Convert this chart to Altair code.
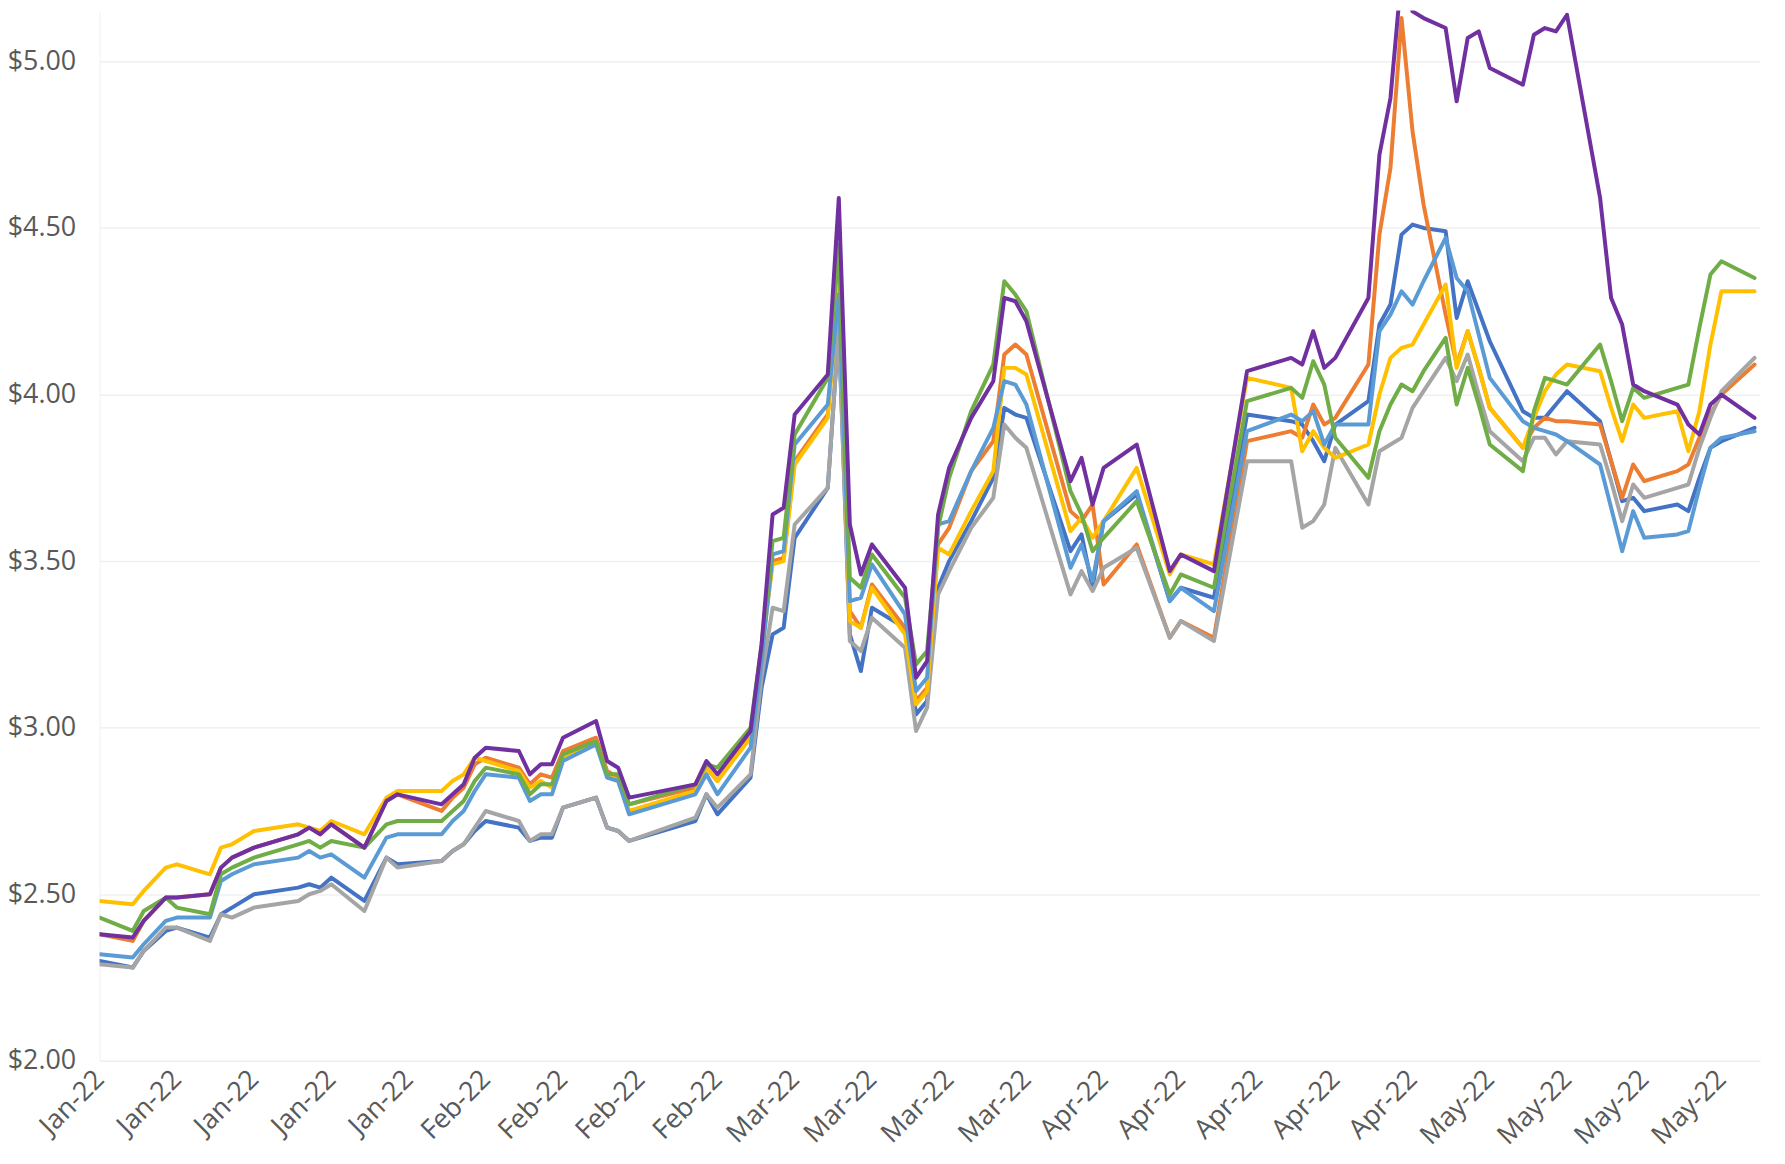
import datetime as dt
import altair as alt
import pandas as pd

# day offsets from 1 Jan 2022 of the plotted observations
DAYS = [0, 3, 4, 6, 7, 10, 11, 12, 14, 18, 19, 20, 21, 24, 26, 27, 31, 32, 33, 34,
        35, 38, 39, 40, 41, 42, 45, 46, 47, 48, 54, 55, 56, 59, 60, 61, 62, 63, 66, 67,
        68, 69, 70, 73, 74, 75, 76, 77, 79, 81, 82, 83, 84, 88, 89, 90, 91, 94, 97, 98,
        101, 104, 108, 109, 110, 111, 112, 115, 116, 117, 118, 119, 120, 122, 123, 124, 125, 126, 129, 130,
        131, 132, 133, 136, 137, 138, 139, 140, 143, 144, 145, 146, 147, 150]

PURPLE = [2.38, 2.37, 2.42, 2.49, 2.49, 2.50, 2.58, 2.61, 2.64, 2.68, 2.70, 2.68, 2.71, 2.64, 2.78, 2.80, 2.77, 2.80, 2.83, 2.91,
          2.94, 2.93, 2.86, 2.89, 2.89, 2.97, 3.02, 2.90, 2.88, 2.79, 2.83, 2.90, 2.86, 2.99, 3.25, 3.64, 3.66, 3.94, 4.06, 4.59,
          3.61, 3.46, 3.55, 3.42, 3.15, 3.20, 3.64, 3.78, 3.93, 4.04, 4.29, 4.28, 4.22, 3.74, 3.81, 3.67, 3.78, 3.85, 3.47, 3.52,
          3.47, 4.07, 4.11, 4.09, 4.19, 4.08, 4.11, 4.29, 4.72, 4.89, 5.26, 5.15, 5.13, 5.10, 4.88, 5.07, 5.09, 4.98, 4.93, 5.08,
          5.10, 5.09, 5.14, 4.59, 4.29, 4.21, 4.03, 4.01, 3.97, 3.91, 3.88, 3.97, 4.00, 3.93]

ORANGE = [2.38, 2.36, 2.42, 2.49, 2.49, 2.50, 2.58, 2.61, 2.64, 2.68, 2.70, 2.68, 2.71, 2.64, 2.78, 2.80, 2.75, 2.79, 2.82, 2.89,
          2.91, 2.88, 2.83, 2.86, 2.85, 2.93, 2.97, 2.87, 2.85, 2.77, 2.82, 2.88, 2.84, 2.98, 3.24, 3.50, 3.51, 3.80, 3.94, 4.35,
          3.35, 3.30, 3.43, 3.30, 3.08, 3.12, 3.55, 3.60, 3.77, 3.86, 4.12, 4.15, 4.12, 3.65, 3.62, 3.67, 3.43, 3.55, 3.27, 3.32,
          3.27, 3.86, 3.89, 3.87, 3.97, 3.91, 3.93, 4.09, 4.48, 4.68, 5.13, 4.79, 4.57, 4.24, 4.09, 4.19, 4.08, 3.96, 3.84, 3.90,
          3.93, 3.92, 3.92, 3.91, 3.80, 3.69, 3.79, 3.74, 3.77, 3.79, 3.87, 3.94, 4.00, 4.09]

YELLOW = [2.48, 2.47, 2.51, 2.58, 2.59, 2.56, 2.64, 2.65, 2.69, 2.71, 2.70, 2.69, 2.72, 2.68, 2.79, 2.81, 2.81, 2.84, 2.86, 2.91,
          2.90, 2.87, 2.82, 2.84, 2.82, 2.91, 2.96, 2.86, 2.84, 2.75, 2.81, 2.88, 2.84, 2.97, 3.23, 3.49, 3.50, 3.79, 3.93, 4.33,
          3.32, 3.30, 3.42, 3.28, 3.07, 3.11, 3.54, 3.52, 3.65, 3.77, 4.08, 4.08, 4.06, 3.59, 3.63, 3.57, 3.62, 3.78, 3.46, 3.52,
          3.49, 4.05, 4.02, 3.83, 3.89, 3.84, 3.81, 3.85, 4.00, 4.11, 4.14, 4.15, 4.21, 4.33, 4.08, 4.19, 4.08, 3.96, 3.84, 3.93,
          4.01, 4.06, 4.09, 4.07, 3.96, 3.86, 3.97, 3.93, 3.95, 3.83, 3.95, 4.15, 4.31, 4.31]

GREEN = [2.43, 2.39, 2.45, 2.49, 2.46, 2.44, 2.56, 2.58, 2.61, 2.65, 2.66, 2.64, 2.66, 2.64, 2.71, 2.72, 2.72, 2.75, 2.78, 2.84,
         2.88, 2.86, 2.80, 2.83, 2.83, 2.92, 2.96, 2.86, 2.86, 2.77, 2.83, 2.89, 2.88, 3.00, 3.25, 3.56, 3.57, 3.88, 4.05, 4.45,
         3.45, 3.42, 3.52, 3.39, 3.19, 3.23, 3.60, 3.75, 3.95, 4.09, 4.34, 4.30, 4.25, 3.71, 3.64, 3.53, 3.57, 3.68, 3.40, 3.46,
         3.42, 3.98, 4.02, 3.99, 4.10, 4.03, 3.87, 3.75, 3.89, 3.97, 4.03, 4.01, 4.07, 4.17, 3.97, 4.08, 3.97, 3.85, 3.77, 3.95,
         4.05, 4.04, 4.03, 4.15, 4.04, 3.92, 4.02, 3.99, 4.02, 4.03, 4.20, 4.36, 4.40, 4.35]

LIGHT_BLUE = [2.32, 2.31, 2.35, 2.42, 2.43, 2.43, 2.54, 2.56, 2.59, 2.61, 2.63, 2.61, 2.62, 2.55, 2.67, 2.68, 2.68, 2.72, 2.75, 2.81,
              2.86, 2.85, 2.78, 2.80, 2.80, 2.90, 2.95, 2.85, 2.84, 2.74, 2.80, 2.86, 2.80, 2.94, 3.20, 3.52, 3.53, 3.85, 3.97, 4.30,
              3.38, 3.39, 3.49, 3.34, 3.11, 3.15, 3.61, 3.62, 3.77, 3.90, 4.04, 4.03, 3.97, 3.48, 3.55, 3.44, 3.62, 3.71, 3.38, 3.42,
              3.35, 3.89, 3.94, 3.92, 3.95, 3.85, 3.91, 3.91, 4.19, 4.24, 4.31, 4.27, 4.34, 4.47, 4.35, 4.31, 4.18, 4.05, 3.92, 3.90,
              3.89, 3.88, 3.86, 3.79, 3.66, 3.53, 3.65, 3.57, 3.58, 3.59, 3.72, 3.84, 3.87, 3.89]

BLUE = [2.30, 2.28, 2.33, 2.39, 2.40, 2.37, 2.44, 2.46, 2.50, 2.52, 2.53, 2.52, 2.55, 2.48, 2.61, 2.59, 2.60, 2.63, 2.65, 2.69,
        2.72, 2.70, 2.66, 2.67, 2.67, 2.76, 2.79, 2.70, 2.69, 2.66, 2.72, 2.80, 2.74, 2.85, 3.12, 3.28, 3.30, 3.57, 3.72, 4.20,
        3.28, 3.17, 3.36, 3.30, 3.04, 3.08, 3.42, 3.50, 3.62, 3.75, 3.96, 3.94, 3.93, 3.53, 3.58, 3.42, 3.62, 3.70, 3.38, 3.42,
        3.39, 3.94, 3.92, 3.91, 3.86, 3.80, 3.91, 3.98, 4.21, 4.27, 4.48, 4.51, 4.50, 4.49, 4.23, 4.34, 4.25, 4.16, 3.95, 3.93,
        3.93, 3.97, 4.01, 3.92, 3.80, 3.68, 3.69, 3.65, 3.67, 3.65, 3.75, 3.84, 3.86, 3.90]

GRAY = [2.29, 2.28, 2.33, 2.40, 2.40, 2.36, 2.44, 2.43, 2.46, 2.48, 2.50, 2.51, 2.53, 2.45, 2.61, 2.58, 2.60, 2.63, 2.65, 2.70,
        2.75, 2.72, 2.66, 2.68, 2.68, 2.76, 2.79, 2.70, 2.69, 2.66, 2.73, 2.80, 2.76, 2.86, 3.15, 3.36, 3.35, 3.61, 3.72, 4.20,
        3.26, 3.23, 3.33, 3.24, 2.99, 3.06, 3.40, 3.47, 3.60, 3.69, 3.91, 3.87, 3.84, 3.40, 3.47, 3.41, 3.48, 3.54, 3.27, 3.32,
        3.26, 3.80, 3.80, 3.60, 3.62, 3.67, 3.84, 3.67, 3.83, 3.85, 3.87, 3.96, 4.01, 4.11, 4.04, 4.12, 4.00, 3.89, 3.80, 3.87,
        3.87, 3.82, 3.86, 3.85, 3.74, 3.62, 3.73, 3.69, 3.72, 3.73, 3.84, 3.93, 4.01, 4.11]

Y_TICKS = [2.0, 2.5, 3.0, 3.5, 4.0, 4.5, 5.0]

# drawing order (first = bottom)
SERIES = [
    ("Series 1", "#4472C4", BLUE),
    ("Series 2", "#ED7D31", ORANGE),
    ("Series 3", "#A5A5A5", GRAY),
    ("Series 4", "#FFC000", YELLOW),
    ("Series 5", "#5B9BD5", LIGHT_BLUE),
    ("Series 6", "#70AD47", GREEN),
    ("Series 7", "#7030A0", PURPLE),
]

START = dt.datetime(2022, 1, 1, tzinfo=dt.timezone.utc)
dates = [(START + dt.timedelta(days=d)).strftime("%Y-%m-%d") for d in DAYS]

rows = []
for name, _, vals in SERIES:
    assert len(vals) == len(DAYS), (name, len(vals), len(DAYS))
    for d, v in zip(dates, vals):
        rows.append({"date": d, "series": name, "price": v})
df = pd.DataFrame(rows)


def ms(t):
    return int(t.timestamp() * 1000)


tick_values = [ms(START + dt.timedelta(days=7 * i)) for i in range(22)]
x_domain = [ms(START), ms(START + dt.timedelta(days=150.5))]

FONT = "Open Sans"

x_enc = alt.X(
    "date:T",
    scale=alt.Scale(type="utc", domain=x_domain, nice=False),
    axis=alt.Axis(
        values=tick_values, format="%b-%y", labelAngle=-45, labelAlign="right",
        labelBaseline="middle", labelFont=FONT, labelFontSize=27, labelColor="#595959",
        labelPadding=14, ticks=False, grid=False, domain=True, domainColor="#eeeeee",
        title=None, labelOverlap=False, labelFlush=False,
    ),
)
y_enc = alt.Y(
    "price:Q",
    scale=alt.Scale(domain=[2.0, 5.1524], nice=False, zero=False),
    axis=alt.Axis(
        values=Y_TICKS, format="$.2f", labelFont=FONT, labelFontSize=27,
        labelColor="#595959", labelPadding=24, ticks=False, grid=True,
        gridColor="#f0f0f0", gridWidth=1.5, domain=True, domainColor="#f0f0f0",
        title=None,
    ),
)

layers = []
for name, color, _ in SERIES:
    layers.append(
        alt.Chart(df)
        .transform_filter(alt.datum.series == name)
        .mark_line(color=color, strokeWidth=4, strokeJoin="round", strokeCap="round", clip=True)
        .encode(x=x_enc, y=y_enc)
    )

chart = (
    alt.layer(*layers)
    .properties(
        width=1668, height=1055,
        autosize=alt.AutoSizeParams(type="none"),
        padding={"left": 92, "top": 0, "right": 17, "bottom": 101},
        background="white",
    )
    .configure_view(stroke=None)
)

chart.save("out.html", embed_options={"renderer": "svg", "actions": False})
